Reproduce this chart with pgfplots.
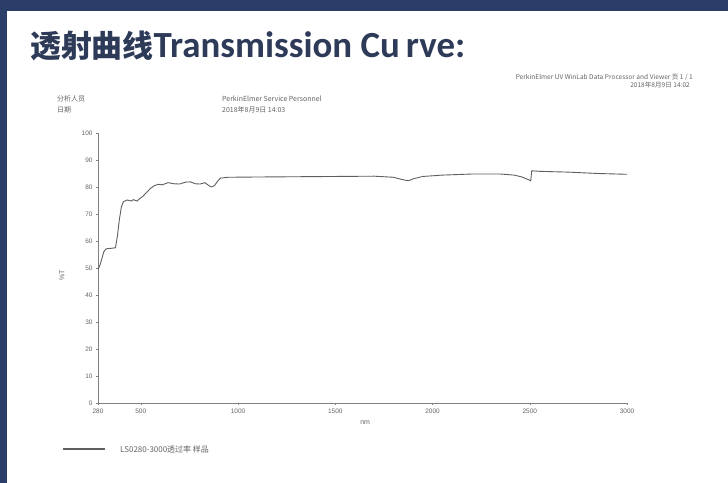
\documentclass[border=0pt]{standalone}
\usepackage{fontspec}
\usepackage{pgfplots}
\pgfplotsset{compat=1.18}
\setmainfont{Liberation Sans}
\newfontfamily\cjk{Noto Sans CJK SC}
\newfontfamily\carlito{Carlito}
\definecolor{navy}{RGB}{43,61,105}
\definecolor{titlec}{RGB}{45,58,88}
\definecolor{curvec}{RGB}{95,95,95}
\definecolor{smallc}{RGB}{100,100,100}
\begin{document}
\begin{tikzpicture}[x=1bp,y=1bp]
\fill[white] (0,0) rectangle (728,483);
\fill[navy] (0,472) rectangle (728,483);
\fill[navy] (0,0) rectangle (7,483);
\node[anchor=base west, text=titlec, inner sep=0] at (30,425)
  {{\cjk\bfseries\fontsize{31}{31}\selectfont 透射曲线}{\carlito\bfseries\fontsize{37}{37}\selectfont Transmission Cu\,rve:}};
% header texts
\begin{scope}[every node/.style={inner sep=0, text=smallc, font=\cjk\fontsize{7}{7}\selectfont}]
\node[anchor=west] at (57,384) {分析人员};
\node[anchor=west] at (57,373) {日期};
\node[anchor=west] at (222,384) {PerkinElmer Service Personnel};
\node[anchor=west] at (222,373) {2018年8月9日 14:03};
\end{scope}
\node[anchor=west, inner sep=0, text=smallc, font=\cjk\fontsize{8}{8}\selectfont] at (120,34) {LS0280-3000透过率 样品};
\begin{scope}[every node/.style={inner sep=0, text=smallc, font=\cjk\fontsize{6.6}{6.6}\selectfont}]
\node[anchor=east] at (693,406) {PerkinElmer UV WinLab Data Processor and Viewer 页 1 / 1};
\node[anchor=east] at (690,398) {2018年8月9日 14:02};
\end{scope}
\draw[curvec, line width=1.1pt] (63,34) -- (105,34);
\begin{axis}[
  at={(98bp,80bp)}, anchor=south west,
  width=529bp, height=270bp, scale only axis,
  xmin=280, xmax=3000, ymin=0, ymax=100,
  axis x line*=bottom, axis y line*=left,
  axis line style={gray, line width=0.6pt, -},
  xtick={280,500,1000,1500,2000,2500,3000},
  ytick={0,10,...,100},
  tick style={gray, line width=0.5pt},
  tick align=outside, major tick length=2bp,
  tick label style={font=\fontsize{6.5}{6.5}\selectfont, text=smallc},
  /pgf/number format/assume math mode=true,
  /pgf/number format/1000 sep={},
  xlabel={nm}, ylabel={\%T},
  label style={font=\fontsize{7}{7}\selectfont, text=smallc},
  xlabel style={at={(axis description cs:0.505,-0.074)}, anchor=center},
  ylabel style={at={(axis description cs:-0.068,0.474)}, anchor=center},
  clip=false,
]
\addplot[curvec, line width=0.9pt] coordinates {
(280,49.5)(290,51)(300,53.5)(310,56)(320,57)(330,57.2)(350,57.3)(370,57.5)
(380,62)(390,68)(400,72.5)(410,74.5)(430,75.2)(450,74.8)(462,75.3)(480,74.8)
(496,75.8)(510,76.5)(530,78)(550,79.5)(570,80.5)(590,81)(610,80.8)(640,81.6)
(670,81.2)(700,81.1)(730,81.8)(755,81.9)(780,81.2)(805,81.1)(830,81.6)(850,80.5)
(865,80)(880,80.6)(895,82.2)(910,83.3)(950,83.6)(1100,83.7)(1300,83.8)(1500,83.9)
(1700,84.0)(1800,83.6)(1830,83.0)(1860,82.5)(1880,82.4)(1900,83.0)(1950,83.9)
(2050,84.4)(2200,84.8)(2350,84.8)(2420,84.4)(2460,83.7)(2490,82.8)(2505,82.3)
(2510,86.0)(2550,85.8)(2700,85.5)(2850,85.0)(3000,84.7)
};
\end{axis}
\end{tikzpicture}
\end{document}
